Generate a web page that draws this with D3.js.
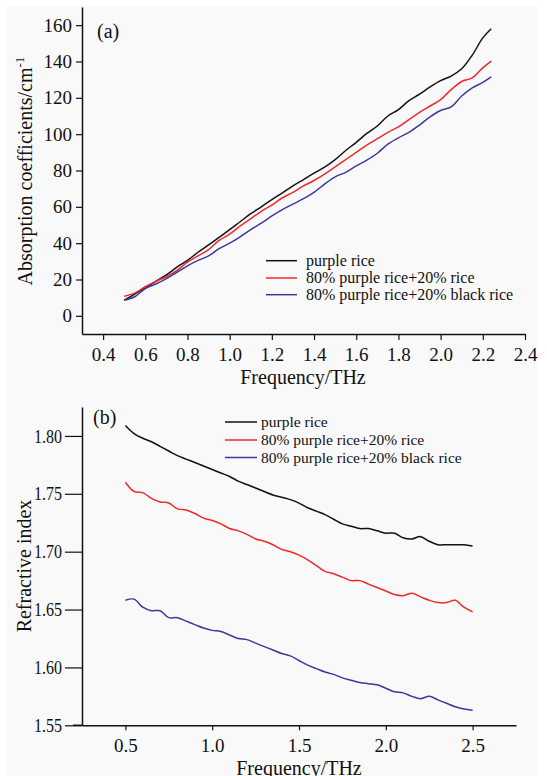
<!DOCTYPE html>
<html>
<head>
<meta charset="utf-8">
<script src="https://cdn.jsdelivr.net/npm/d3@7"></script>
<style>
  body { margin: 0; background: #fff; }
  svg text { fill: #111; }
</style>
</head>
<body>
<div id="chart"></div>
<script>
// ---- panel (a): absorption coefficients ----
const freqA = [0.50, 0.55, 0.60, 0.65, 0.70, 0.75, 0.80, 0.85, 0.90, 0.95, 1.00, 1.05, 1.10, 1.15, 1.20, 1.25,
  1.30, 1.35, 1.40, 1.45, 1.50, 1.55, 1.60, 1.65, 1.70, 1.75, 1.80, 1.85, 1.90, 1.95, 2.00, 2.05, 2.10, 2.15, 2.20, 2.24];
const absPurple = [8.6, 12.0, 15.5, 19.0, 22.5, 26.8, 30.5, 35.0, 39.0, 43.2, 47.4, 51.8, 56.2, 60.0, 64.0, 67.7,
  71.5, 75.0, 78.5, 81.8, 86.0, 91.0, 95.5, 100.4, 104.5, 110.0, 113.5, 118.5, 122.0, 126.0, 129.5, 132.0, 136.0, 143.5, 153.0, 158.0];
const absRice = [10.8, 12.5, 16.0, 19.0, 21.5, 25.0, 29.5, 33.0, 36.5, 41.5, 45.0, 49.5, 53.5, 57.5, 61.0, 65.0,
  68.0, 71.5, 74.5, 78.0, 82.0, 86.0, 90.0, 94.0, 97.5, 101.0, 104.0, 108.0, 112.0, 115.5, 119.0, 124.5, 129.0, 131.0, 136.5, 140.2];
const absBlack = [8.6, 10.5, 15.0, 17.5, 20.5, 24.0, 27.5, 30.5, 33.0, 37.0, 40.0, 43.5, 47.5, 51.0, 55.0, 58.5,
  61.5, 64.5, 68.0, 72.5, 76.5, 79.0, 82.5, 85.7, 89.5, 94.5, 98.0, 101.0, 105.0, 109.5, 113.0, 115.0, 121.0, 125.5, 128.5, 131.5];
const ticksAx = [0.4, 0.6, 0.8, 1.0, 1.2, 1.4, 1.6, 1.8, 2.0, 2.2, 2.4];
const ticksAy = [0, 20, 40, 60, 80, 100, 120, 140, 160];

// ---- panel (b): refractive index ----
const freqB = [0.50, 0.55, 0.60, 0.65, 0.70, 0.75, 0.80, 0.85, 0.90, 0.95, 1.00, 1.05, 1.10, 1.15, 1.20, 1.25, 1.30,
  1.35, 1.40, 1.45, 1.50, 1.55, 1.60, 1.65, 1.70, 1.75, 1.80, 1.85, 1.90, 1.95, 2.00, 2.05, 2.10, 2.15, 2.20, 2.25,
  2.30, 2.35, 2.40, 2.45, 2.50];
const riPurple = [1.809, 1.802, 1.798, 1.795, 1.791, 1.787, 1.783, 1.780, 1.777, 1.774, 1.771, 1.768, 1.765, 1.761,
  1.758, 1.755, 1.752, 1.749, 1.747, 1.745, 1.742, 1.738, 1.735, 1.732, 1.728, 1.724, 1.722, 1.720, 1.720, 1.718,
  1.716, 1.716, 1.712, 1.711, 1.713, 1.709, 1.706, 1.706, 1.706, 1.706, 1.705];
const riRice = [1.760, 1.752, 1.751, 1.746, 1.743, 1.742, 1.737, 1.736, 1.733, 1.729, 1.727, 1.724, 1.720, 1.718,
  1.715, 1.711, 1.709, 1.706, 1.702, 1.700, 1.697, 1.693, 1.688, 1.683, 1.681, 1.678, 1.675, 1.675, 1.672, 1.669,
  1.666, 1.663, 1.662, 1.664, 1.661, 1.658, 1.656, 1.656, 1.658, 1.652, 1.648];
const riBlack = [1.658, 1.659, 1.652, 1.649, 1.649, 1.643, 1.643, 1.640, 1.637, 1.634, 1.632, 1.631, 1.628, 1.625,
  1.624, 1.621, 1.618, 1.615, 1.612, 1.610, 1.606, 1.602, 1.599, 1.596, 1.594, 1.591, 1.589, 1.587, 1.586, 1.585,
  1.582, 1.579, 1.578, 1.575, 1.573, 1.575, 1.572, 1.569, 1.566, 1.564, 1.563];
const ticksBx = [0.5, 1.0, 1.5, 2.0, 2.5];
const ticksBy = [1.55, 1.60, 1.65, 1.70, 1.75, 1.80];

const seriesNames = ["purple rice", "80% purple rice+20% rice", "80% purple rice+20% black rice"];
const seriesColors = ["#111111", "#ee2a2a", "#3a3a9c"];

const W = 547, H = 776;
const FONT = '"Liberation Serif", "Times New Roman", serif';
const svg = d3.select("#chart").append("svg").attr("width", W).attr("height", H)
  .style("font-family", FONT);

// light grey figure background with thin white border
svg.append("rect").attr("x", 6).attr("y", 6).attr("width", 532).attr("height", 770).attr("fill", "#f9f9f9");

// ---------- panel (a) ----------
const xA = d3.scaleLinear().domain([0.3, 2.4]).range([82, 525]);
const yA = d3.scaleLinear().domain([-10, 170]).range([334, 7]);

const gA = svg.append("g");
gA.append("g")
  .attr("transform", "translate(0,334)")
  .call(d3.axisBottom(xA).tickValues(ticksAx).tickFormat(d3.format(".1f")).tickSize(6).tickSizeOuter(0).tickPadding(8))
  .call(styleAxis);
gA.append("g")
  .attr("transform", "translate(82,0)")
  .call(d3.axisLeft(yA).tickValues(ticksAy).tickSize(6).tickSizeOuter(0).tickPadding(4))
  .call(styleAxis);

const lineA = d3.line().x((d, i) => xA(freqA[i])).y(d => yA(d)).curve(d3.curveCatmullRom);
[absPurple, absRice, absBlack].forEach((s, k) => {
  gA.append("path").attr("d", lineA(s)).attr("fill", "none")
    .attr("stroke", seriesColors[k]).attr("stroke-width", 1.5);
});

gA.append("text").attr("x", 97).attr("y", 38).attr("font-size", 20).text("(a)");
gA.append("text").attr("x", 303).attr("y", 384).attr("text-anchor", "middle").attr("font-size", 20).text("Frequency/THz");
const tA = gA.append("text").attr("transform", "translate(32,171) rotate(-90)")
  .attr("text-anchor", "middle").attr("font-size", 20);
tA.append("tspan").text("Absorption coefficients/cm");
tA.append("tspan").attr("dy", -8).attr("font-size", 13).text("-1");

drawLegend(gA, 266, 297, 306, [260.7, 278, 294.7], 16);

// ---------- panel (b) ----------
const xB = d3.scaleLinear().domain([0.25, 2.75]).range([82, 516]);
const yB = d3.scaleLinear().domain([1.55, 1.825]).range([725.3, 407]);

const gB = svg.append("g");
gB.append("line").attr("x1", 73).attr("x2", 82).attr("y1", 725.3).attr("y2", 725.3)
  .attr("stroke", "#111").attr("stroke-width", 1.5);
gB.append("g")
  .attr("transform", "translate(0,725.3)")
  .call(d3.axisBottom(xB).tickValues(ticksBx).tickFormat(d3.format(".1f")).tickSize(5).tickSizeOuter(0).tickPadding(8))
  .call(styleAxis);
gB.append("g")
  .attr("transform", "translate(82,0)")
  .call(d3.axisLeft(yB).tickValues(ticksBy).tickFormat(d3.format(".2f")).tickSize(17).tickSizeOuter(0).tickPadding(3))
  .call(styleAxis)
  .call(g => g.selectAll(".tick text").attr("textLength", 28).attr("lengthAdjust", "spacingAndGlyphs"));

const lineB = d3.line().x((d, i) => xB(freqB[i])).y(d => yB(d)).curve(d3.curveCatmullRom);
[riPurple, riRice, riBlack].forEach((s, k) => {
  gB.append("path").attr("d", lineB(s)).attr("fill", "none")
    .attr("stroke", seriesColors[k]).attr("stroke-width", 1.5);
});

gB.append("text").attr("x", 93).attr("y", 424).attr("font-size", 20).text("(b)");
gB.append("text").attr("x", 299).attr("y", 775).attr("text-anchor", "middle").attr("font-size", 20).text("Frequency/THz");
gB.append("text").attr("transform", "translate(31,566) rotate(-90)")
  .attr("text-anchor", "middle").attr("font-size", 20).text("Refractive index");

drawLegend(gB, 225, 257, 261, [422, 440, 457.5], 15.5);

function styleAxis(g) {
  g.attr("font-family", null);
  g.select(".domain").attr("stroke", "#111").attr("stroke-width", 1.5);
  g.selectAll(".tick line").attr("stroke", "#111").attr("stroke-width", 1.2);
  g.selectAll(".tick text")
    .attr("font-size", 19)
    .attr("fill", "#111");
}

function drawLegend(g, x1, x2, tx, rows, fs) {
  seriesNames.forEach((name, k) => {
    g.append("line").attr("x1", x1).attr("x2", x2).attr("y1", rows[k]).attr("y2", rows[k])
      .attr("stroke", seriesColors[k]).attr("stroke-width", 1.5);
    g.append("text").attr("x", tx).attr("y", rows[k] + 5).attr("font-size", fs).text(name);
  });
}
</script>
</body>
</html>
